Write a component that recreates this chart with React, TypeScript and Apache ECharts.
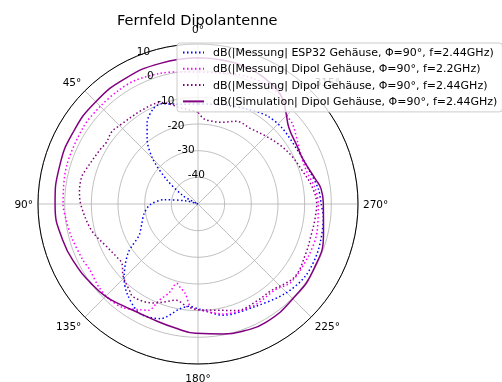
import React, { useEffect, useRef } from "react";
import * as echarts from "echarts";

const chartTitle = "Fernfeld Dipolantenne";
const seriesNames = [
  "dB(|Messung| ESP32 Gehäuse, Φ=90°, f=2.44GHz)",
  "dB(|Messung| Dipol Gehäuse, Φ=90°, f=2.2GHz)",
  "dB(|Messung| Dipol Gehäuse, Φ=90°, f=2.44GHz)",
  "dB(|Simulation| Dipol Gehäuse, Φ=90°, f=2.44GHz)",
];
const seriesColors = ["#0000ff", "#ff00ff", "#800080", "#800080"];

// Messung ESP32 (blue dotted)
const espAngles = [0, 10, 20, 25, 32, 38, 45, 52, 61, 66, 70, 75, 83, 91, 100, 110, 118, 125, 135, 142, 152, 162, 170, 175, 181, 193, 209, 224, 236, 249, 264, 270, 277, 286, 297, 312, 322, 333, 345, 360];
const espDb = [-12.5, -12, -10, -10.5, -14, -19, -26, -35, -43.6, -50, -50, -45.5, -37, -32, -29.5, -27.5, -25, -18, -10.8, -7, -3.5, -4.8, -10, -11.5, -10.5, -7.2, -6, -3.2, -1.5, -1.7, -2.75, -3.8, -4.5, -6.3, -7.5, -7.5, -8, -10, -11.5, -12.5];

// Messung Dipol 2.2 GHz (magenta dotted)
const dip22Angles = [0, 8, 16, 27, 35, 45, 56, 74, 90, 97, 105, 116, 121, 130, 137, 144, 151, 155, 158, 162, 165, 168, 172, 176, 185, 193, 200, 210, 222, 230, 245, 256, 270, 278, 287, 297, 310, 315, 323, 335, 345, 360];
const dip22Db = [-0.5, 0, 1, 2, 2, 1.8, 1.8, 1.3, 0.6, -0.2, -1, -2, -2.5, -1.5, -1.2, -2, -4.7, -6, -11, -15, -19.2, -18, -16, -11.4, -9.5, -7.7, -7, -6.5, -6.7, -4.4, -4.2, -4.1, -4.9, -5.75, -7.5, -7, -3.6, -2.9, 1.2, 1.5, 0.5, -0.5];

// Messung Dipol 2.44 GHz (purple dotted)
const dip244Angles = [0, 9, 20, 30, 44, 50, 56, 61, 73, 77, 84, 91, 104, 115, 123, 128, 134, 142, 145, 154, 157, 162, 167, 174, 181, 187, 200, 212, 220, 233, 245, 255, 262, 270, 279, 288, 297, 305, 315, 325, 335, 345, 350, 356, 360];
const dip244Db = [-15.5, -13.7, -9.5, -9, -8.5, -7.8, -8.6, -8, -6, -5.2, -5.3, -6.2, -8.9, -12.2, -13.6, -13.8, -11, -8.5, -7.5, -8.8, -9.7, -11.5, -13, -11.3, -10.3, -9.9, -7.5, -7.5, -7.5, -4.6, -5.5, -6, -5.8, -5.5, -6.8, -9, -10.5, -12, -14, -15.5, -15.8, -18.3, -18.5, -18, -15.5];

// Simulation Dipol 2.44 GHz (purple solid)
const simAngles = [0, 15, 30, 45, 60, 75, 90, 105, 118, 126, 135, 143, 151, 160, 169, 179, 191, 200, 210, 225, 241, 257, 270, 277, 282, 293, 301, 310, 316, 322, 330, 340, 350, 360];
const simDb = [4.8, 4.6, 4.4, 4.2, 4.0, 3.8, 3.6, 2.5, 1.0, 0, -1, -2.5, -3.5, -3.5, -2.8, -1.5, -0.3, 0.6, 1.2, 0.3, -0.2, -1.7, -3.0, -3.5, -5.0, -7.2, -6.9, -5.5, -2.5, 1.0, 3.0, 4.2, 4.7, 4.8];

const angleMin = 0;
const angleMax = 360;
const angleStep = 45;
const rMin = -50;
const rMax = 10;
const rStep = 10;

const FONT = "DejaVu Sans";

export default function App() {
  const ref = useRef<HTMLDivElement>(null);
  useEffect(() => {
    const chart = echarts.init(ref.current as HTMLDivElement, null, { renderer: "svg" });
    const pairs = (angles: number[], vals: number[]) => angles.map((a, i) => [vals[i], a]);
    const allData = [
      pairs(espAngles, espDb),
      pairs(dip22Angles, dip22Db),
      pairs(dip244Angles, dip244Db),
      pairs(simAngles, simDb),
    ];
    const lineTypes: any[] = [[1.5, 2.5], [1.5, 2.5], [1.5, 2.5], "solid"];
    const smoothing = [0.3, 0.3, 0.35, 0.5];
    chart.setOption({
      animation: false,
      textStyle: { fontFamily: FONT },
      title: {
        text: chartTitle,
        left: 117,
        top: 12,
        padding: 0,
        textStyle: { fontFamily: FONT, fontSize: 14.5, fontWeight: "normal", color: "#000" },
      },
      legend: {
        orient: "vertical",
        left: 177,
        top: 43,
        padding: [3.5, 5, 4.5, 5],
        itemWidth: 21,
        itemHeight: 10,
        itemGap: 4.3,
        backgroundColor: "rgba(255,255,255,0.8)",
        borderColor: "#cccccc",
        borderWidth: 1,
        borderRadius: 3,
        itemStyle: { opacity: 0, color: "rgba(0,0,0,0)", borderWidth: 0 },
        textStyle: { fontFamily: FONT, fontSize: 11, color: "#000", lineHeight: 12, padding: [0, 0, 0, 4] },
        data: seriesNames,
      },
      polar: [
        { center: [198, 204], radius: 160 },
        { center: [198, 204], radius: 160 },
      ],
      angleAxis: [
        {
          polarIndex: 0,
          type: "value",
          min: angleMin,
          max: angleMax,
          interval: angleStep,
          startAngle: 90,
          clockwise: false,
          axisLine: { lineStyle: { color: "#000", width: 1 } },
          axisTick: { show: false },
          splitLine: { lineStyle: { color: "#b0b0b0", width: 0.8 } },
          axisLabel: {
            margin: 5,
            color: "#000",
            fontFamily: FONT,
            fontSize: 10.5,
            formatter: (v: number) => {
              if (v === 360) return "";
              if (v === 0) return "{t|" + v + "°}";
              if (v === 180) return "{b|" + v + "°}";
              return v + "°";
            },
            rich: {
              t: { fontFamily: FONT, fontSize: 10.5, color: "#000", padding: [0, 0, 5, 0] },
              b: { fontFamily: FONT, fontSize: 10.5, color: "#000", padding: [3, 0, 0, 0] },
            },
          },
        },
        {
          polarIndex: 1,
          type: "value",
          min: angleMin,
          max: angleMax,
          startAngle: 112.5,
          clockwise: false,
          show: false,
        },
      ],
      radiusAxis: [
        {
          polarIndex: 0,
          type: "value",
          min: rMin,
          max: rMax,
          interval: rStep,
          axisLine: { show: false },
          axisTick: { show: false },
          axisLabel: { show: false },
          splitLine: { lineStyle: { color: "#b0b0b0", width: 0.8 } },
        },
        {
          polarIndex: 1,
          type: "value",
          min: rMin,
          max: rMax,
          interval: rStep,
          z: 3,
          axisLine: { show: false },
          axisTick: { show: false },
          splitLine: { show: false },
          axisLabel: {
            margin: 0,
            align: "left",
            verticalAlign: "bottom",
            color: "#000",
            fontFamily: FONT,
            fontSize: 10.5,
            formatter: (v: number) => (v === rMin ? "" : String(v)),
          },
        },
      ],
      series: seriesNames.map((name, i) => ({
        name,
        type: "line",
        coordinateSystem: "polar",
        polarIndex: 0,
        data: allData[i],
        symbol: "none",
        showSymbol: false,
        smooth: smoothing[i],
        z: 2 + i * 0.01,
        lineStyle: { color: seriesColors[i], width: 1.5, type: lineTypes[i] },
        itemStyle: { color: seriesColors[i] },
      })),
    });
    return () => chart.dispose();
  }, []);
  return <div ref={ref} style={{ position: "fixed", left: 0, top: 0, width: 502, height: 382 }} />;
}
